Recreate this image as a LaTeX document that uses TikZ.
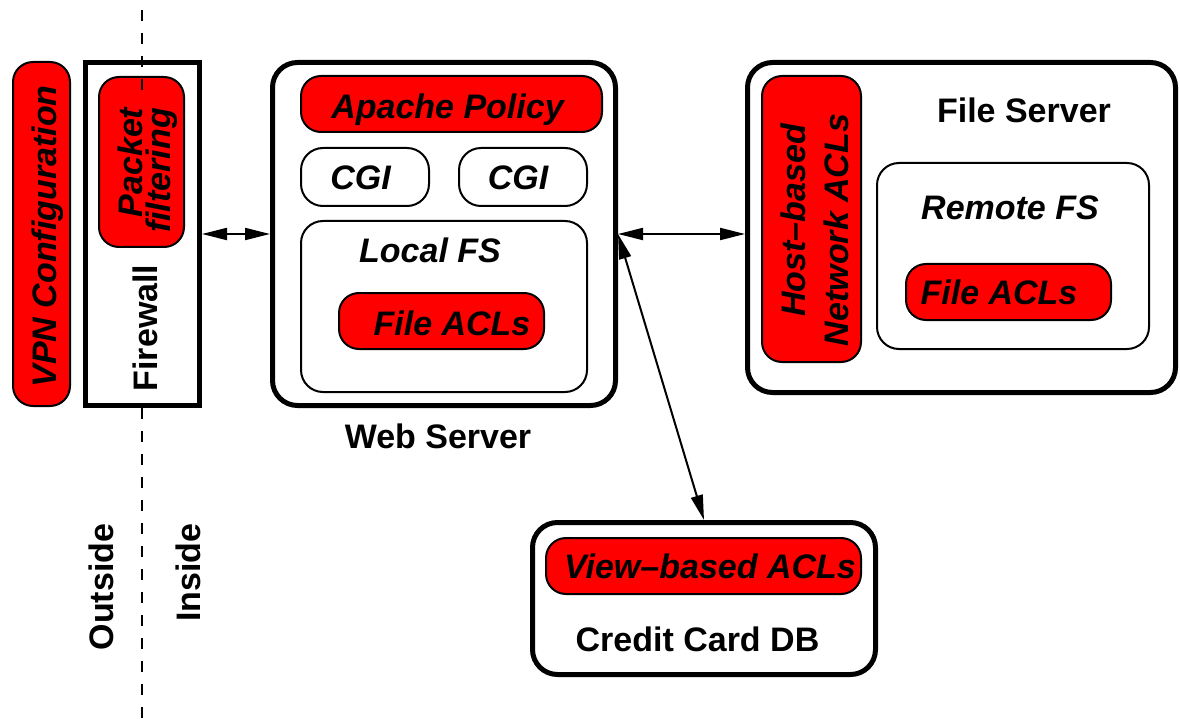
\documentclass[tikz,border=0pt]{standalone}
\usepackage{fontspec}
\setmainfont{Liberation Sans}
\usetikzlibrary{arrows.meta}
\begin{document}
\begin{tikzpicture}[x=1pt,y=-1pt,
  big/.style={font=\fontsize{34}{34}\selectfont\bfseries},
  bigit/.style={font=\fontsize{34}{34}\selectfont\bfseries\itshape},
  outerbox/.style={draw, line width=5pt, rounded corners=25pt, fill=white, inner sep=0pt},
  firebox/.style={draw, line width=5pt, fill=white, inner sep=0pt},
  whitebox/.style={draw, line width=2pt, rounded corners=22pt, fill=white, inner sep=0pt},
  redbox/.style={draw, line width=2pt, rounded corners=20pt, fill=red, inner sep=0pt},
  txt/.style={inner sep=0pt, outer sep=0pt, anchor=base},
  link/.style={line width=2pt, {Triangle[length=25pt,width=12pt]}-{Triangle[length=25pt,width=12pt]}},
  boundary/.style={line width=2pt, dash pattern=on 11pt off 12pt}]
\useasboundingbox (0,0) rectangle (1180,719);

% boundary line (lower part)
\coordinate (b1) at (142,408);
\coordinate (b2) at (142,719);
\draw[boundary] (b1) -- (b2);

% outside: VPN
\node[redbox, minimum width=57pt, minimum height=344pt] (vpn) at (41.5,234) {};

% firewall
\node[firebox, minimum width=114pt, minimum height=343pt] (fw) at (142.5,234) {};
\node[redbox, minimum width=85pt, minimum height=170pt] (pf) at (141.5,162) {};
\coordinate (t1) at (142,10);
\coordinate (t2) at (142,100);
\draw[boundary] (t1) -- (t2);

% web server
\node[outerbox, minimum width=343pt, minimum height=343pt] (ws) at (444,234) {};
\node[redbox, minimum width=301pt, minimum height=56pt] (ap) at (451.5,104) {};
\node[whitebox, minimum width=128pt, minimum height=58pt] (cgi1) at (365,177) {};
\node[whitebox, minimum width=128pt, minimum height=58pt] (cgi2) at (523,177) {};
\node[whitebox, minimum width=286pt, minimum height=171pt] (lfs) at (444,306.5) {};
\node[redbox, minimum width=205pt, minimum height=56pt] (facl1) at (441.5,321) {};

% file server
\node[outerbox, minimum width=428pt, minimum height=330pt] (fs) at (961.5,227.5) {};
\node[redbox, minimum width=99pt, minimum height=286pt] (hb) at (811.5,219) {};
\node[whitebox, minimum width=272pt, minimum height=186pt] (rfs) at (1013,256) {};
\node[redbox, minimum width=205pt, minimum height=56pt] (facl2) at (1008.5,292) {};

% credit card db
\node[outerbox, minimum width=343pt, minimum height=152pt] (cc) at (704,598.5) {};
\node[redbox, minimum width=315pt, minimum height=56pt] (vb) at (703.5,566) {};

% texts
\node[bigit, txt, rotate=90] (vpnt) at (56,236.5) {VPN Configuration};
\node[bigit, txt, rotate=90] (pft1) at (142,162.5) {Packet};
\node[bigit, txt, rotate=90] (pft2) at (170,170.5) {filtering};
\node[big, txt, rotate=90] (fwt) at (157,328) {Firewall};
\node[bigit, txt] (apt) at (447.5,119) {Apache Policy};
\node[bigit, txt] (cgi1t) at (360.5,190) {CGI};
\node[bigit, txt] (cgi2t) at (518,190) {CGI};
\node[bigit, txt] (lfst) at (430,262) {Local FS};
\node[bigit, txt] (facl1t) at (452,335) {File ACLs};
\node[big, txt] (wst) at (438,448) {Web Server};
\node[bigit, txt, rotate=90] (hbt1) at (805,220.5) {Host–based};
\node[bigit, txt, rotate=90] (hbt2) at (848,230) {Network ACLs};
\node[big, txt] (fst) at (1024,123) {File Server};
\node[bigit, txt] (rfst) at (1010,220) {Remote FS};
\node[bigit, txt] (facl2t) at (999,305) {File ACLs};
\node[bigit, txt] (vbt) at (710,578) {View–based ACLs};
\node[big, txt] (cct) at (697.5,651) {Credit Card DB};
\node[big, txt, rotate=90] (outt) at (113,587) {Outside};
\node[big, txt, rotate=90] (int) at (200,572.5) {Inside};

% connectors
\draw[link] (fw.east) -- (ws.west);
\draw[link] (ws.east) -- (ws.east -| fs.west);
\draw[link] (ws.east) -- (cc.north);
\end{tikzpicture}
\end{document}
